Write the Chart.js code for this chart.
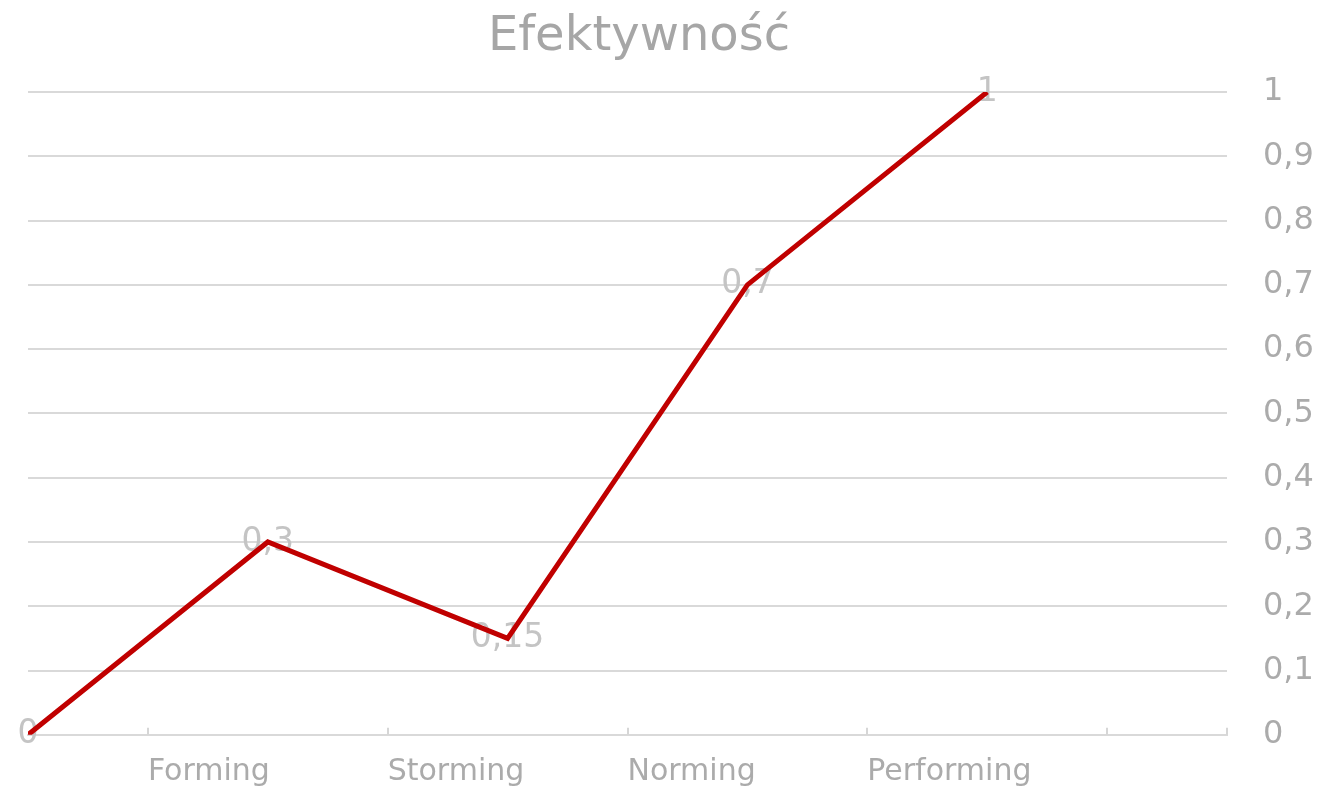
<!DOCTYPE html>
<html>
<head>
<meta charset="utf-8">
<script src="https://cdn.jsdelivr.net/npm/chart.js@4"></script>
<style>
  html, body { margin: 0; padding: 0; background: #ffffff; }
  #wrap { width: 1323px; height: 790px; position: relative; }
</style>
</head>
<body>
<div id="wrap"><canvas id="c" width="1323" height="790"></canvas></div>
<script>
// ---- data ----
const chartTitle = 'Efektywność';
const categories = ['Forming', 'Storming', 'Norming', 'Performing'];
const stagePositions = [0, 1, 2, 3, 4];
const values = [0, 0.3, 0.15, 0.7, 1];
const xTickValues = [0.5, 1.5, 2.5, 3.5, 4.5, 5];
const yMin = 0, yMax = 1, yStep = 0.1;

const fmt = v => String(Math.round(v * 100) / 100).replace('.', ',');
const FONT = 'DejaVu Sans';

const points = stagePositions.map((x, i) => ({ x: x, y: values[i] }));

const titlePlugin = {
  id: 'titleText',
  afterDraw(chart) {
    const ctx = chart.ctx;
    ctx.save();
    ctx.font = '48px "' + FONT + '"';
    ctx.fillStyle = '#a6a6a6';
    ctx.textAlign = 'center';
    ctx.textBaseline = 'alphabetic';
    ctx.fillText(chartTitle, 639, 50);
    ctx.restore();
  }
};

const upTicksPlugin = {
  id: 'upTicks',
  afterDraw(chart) {
    const ctx = chart.ctx, xs = chart.scales.x, ys = chart.scales.y;
    const yb = ys.getPixelForValue(yMin);
    ctx.save();
    ctx.strokeStyle = '#d6d6d6';
    ctx.lineWidth = 2;
    xTickValues.forEach(v => {
      const px = Math.round(xs.getPixelForValue(v));
      ctx.beginPath();
      ctx.moveTo(px, yb);
      ctx.lineTo(px, yb - 7);
      ctx.stroke();
    });
    ctx.restore();
  }
};

const dataLabelPlugin = {
  id: 'dataLabels',
  beforeDatasetsDraw(chart) {
    const ctx = chart.ctx;
    const meta = chart.getDatasetMeta(0);
    ctx.save();
    ctx.font = '33px "' + FONT + '"';
    ctx.fillStyle = '#c4c4c4';
    ctx.textAlign = 'center';
    ctx.textBaseline = 'middle';
    meta.data.forEach((el, i) => {
      ctx.fillText(fmt(values[i]), el.x, el.y);
    });
    ctx.restore();
  }
};

new Chart(document.getElementById('c'), {
  type: 'line',
  data: {
    datasets: [{
      data: points,
      borderColor: '#c00000',
      borderWidth: 5,
      pointRadius: 0,
      pointHoverRadius: 0,
      tension: 0,
      fill: false
    }]
  },
  options: {
    responsive: false,
    animation: false,
    events: [],
    layout: { padding: { left: 28, top: 92, right: 0, bottom: 0 } },
    plugins: {
      legend: { display: false },
      title: { display: false },
      tooltip: { enabled: false }
    },
    scales: {
      x: {
        type: 'linear',
        position: 'bottom',
        min: 0,
        max: 5,
        afterBuildTicks(scale) {
          scale.ticks = xTickValues.map(v => ({ value: v }));
        },
        afterFit(scale) { scale.height = 52; },
        grid: { display: false, drawTicks: false },
        border: { display: true, color: '#d9d9d9', width: 2 },
        ticks: {
          align: 'start',
          padding: 19,
          maxRotation: 0,
          autoSkip: false,
          color: '#ababab',
          font: { family: FONT, size: 30 },
          callback: v => categories[Math.floor(v)] || ''
        }
      },
      y: {
        position: 'right',
        min: yMin,
        max: yMax,
        afterFit(scale) { scale.width = 96; },
        grid: { color: '#d9d9d9', lineWidth: 2, drawTicks: false },
        border: { display: false },
        ticks: {
          stepSize: yStep,
          padding: 36,
          color: '#ababab',
          font: { family: FONT, size: 32 },
          callback: v => fmt(v)
        }
      }
    }
  },
  plugins: [dataLabelPlugin, upTicksPlugin, titlePlugin]
});
</script>
</body>
</html>
